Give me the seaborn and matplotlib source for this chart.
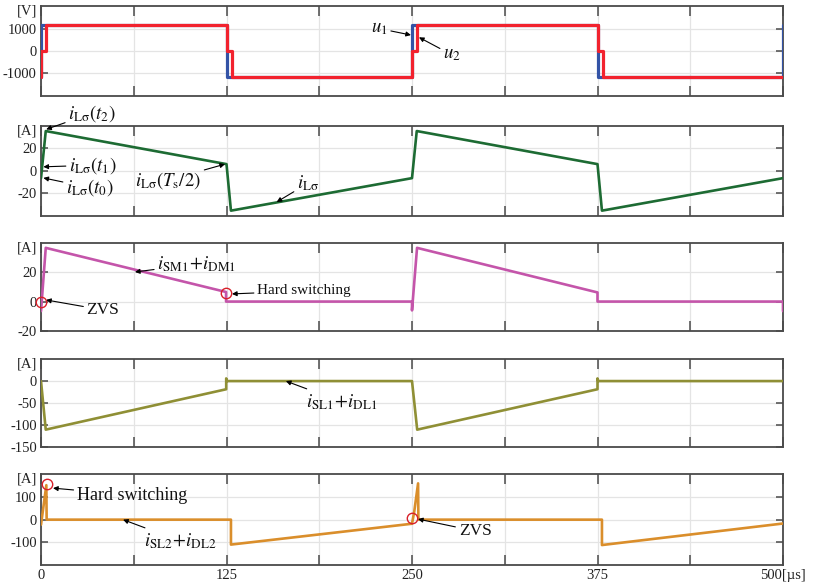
import numpy as np
import pandas as pd
import matplotlib
matplotlib.use("Agg")
import matplotlib.pyplot as plt
import seaborn as sns

# -----------------------------
# Data
# -----------------------------
t_u1 = [0, 0, 125, 125, 250, 250, 375, 375, 500, 500]
u1 = [-1200, 1200, 1200, -1200, -1200, 1200, 1200, -1200, -1200, 1200]

t_u2 = [0, 0, 3.5, 3.5, 125, 125, 128.5, 128.5, 250, 250, 253.5, 253.5,
        375, 375, 378.5, 378.5, 500]
u2 = [-1200, 0, 0, 1200, 1200, 0, 0, -1200, -1200, 0, 0, 1200,
      1200, 0, 0, -1200, -1200]

t_iL = [0, 3.2, 125, 128, 250, 253.2, 375, 378, 500]
i_L = [-6.5, 35.5, 6, -35.5, -6.5, 35.5, 6, -35.5, -6.5]

t_sm1 = [0, 3.2, 124.7, 124.7, 250, 250, 253.4, 375, 375, 500, 500]
i_sm1 = [-6.5, 36.5, 6.5, 0, 0, -6, 36.5, 6.2, 0, 0, -6.5]

t_sl1 = [0, 3.2, 124.8, 124.8, 125.4, 250, 253.5, 375, 375, 375.5, 500]
i_sl1 = [0, -110, -18.5, 6, 0, 0, -110, -18.5, 6, 0, 0]

t_sl2 = [0, 3.6, 3.8, 128, 128, 250, 251.5, 254.1, 254.3, 378, 378, 500]
i_sl2 = [-22, 152, 0, 0, -110, -18, 35, 160, 0, 0, -112, -17]

x_ticks = [0, 62.5, 125, 187.5, 250, 312.5, 375, 437.5, 500]
x_labels = ["0", "", "125", "", "250", "", "375", "", "500[\u00b5s]"]

y_ticks = [[-1000, 0, 1000], [-20, 0, 20], [-20, 0, 20],
           [-150, -100, -50, 0], [-100, 0, 100]]
y_lims = [(-2050, 2050), (-40, 40), (-20, 40), (-150, 50), (-200, 200)]
units = ["[V]", "[A]", "[A]", "[A]", "[A]"]

# -----------------------------
# Style
# -----------------------------
sns.set_theme(style="white")
plt.rcParams["font.family"] = ["Liberation Serif", "DejaVu Serif"]
plt.rcParams["mathtext.fontset"] = "stix"
plt.rcParams["axes.unicode_minus"] = False

BLUE = "#3353A6"
RED = "#F2222E"
GREEN = "#1D6B33"
MAGENTA = "#C455AA"
OLIVE = "#8F8F35"
ORANGE = "#DA8E2B"
CIRCLE = "#D8202A"
TICK_FS = 10.5

W, H = 813, 585
fig = plt.figure(figsize=(W / 100, H / 100), dpi=100)

panels_px = [(6, 96), (126, 215.7), (242.7, 331), (359, 447.3), (474.3, 565)]
axes = []
for top, bot in panels_px:
    ax = fig.add_axes([41 / W, 1 - bot / H, 742 / W, (bot - top) / H])
    axes.append(ax)

# -----------------------------
# Curves
# -----------------------------
df_u = pd.concat([
    pd.DataFrame({"t": t_u1, "v": u1, "sig": "u1"}),
    pd.DataFrame({"t": t_u2, "v": u2, "sig": "u2"}),
])
sns.lineplot(data=df_u, x="t", y="v", hue="sig", hue_order=["u1", "u2"],
             palette={"u1": BLUE, "u2": RED}, sort=False, estimator=None,
             lw=2.3, legend=False, ax=axes[0], zorder=3)

series = [(t_iL, i_L, GREEN), (t_sm1, i_sm1, MAGENTA),
          (t_sl1, i_sl1, OLIVE), (t_sl2, i_sl2, ORANGE)]
for ax, (tt, ii, col) in zip(axes[1:], series):
    sns.lineplot(x=tt, y=ii, sort=False, estimator=None, color=col,
                 lw=1.9, ax=ax, zorder=3)

for k, ax in enumerate(axes):
    ax.set_xlim(0, 500)
    ax.set_ylim(*y_lims[k])
    ax.set_xticks(x_ticks)
    ax.set_yticks(y_ticks[k])
    ax.set_xlabel("")
    ax.set_ylabel("")
    ax.grid(True, color="#E4E4E4", lw=0.9, zorder=0)
    ax.set_axisbelow(True)
    for sp in ax.spines.values():
        sp.set_color("#4A4A4A")
        sp.set_linewidth(1.3)
    ax.tick_params(axis="x", direction="in", top=True, bottom=True,
                   length=7.5, width=1.1, color="#4A4A4A", labelsize=TICK_FS,
                   pad=3)
    ax.tick_params(axis="y", direction="in", left=True, right=True,
                   length=5, width=1.1, color="#4A4A4A", labelsize=TICK_FS,
                   pad=3, labelcolor="#222222")
    if k < 4:
        ax.set_xticklabels([])
    else:
        ax.set_xticklabels(x_labels, color="#222222")
    ax.text(-0.005, 0.945, units[k], transform=ax.transAxes, ha="right",
            va="center", fontsize=TICK_FS, color="#222222")

# -----------------------------
# Annotations
# -----------------------------
arrow = dict(arrowstyle="-|>", color="black", lw=0.8, mutation_scale=7,
             shrinkA=0, shrinkB=0)


def note(ax, text, xy, xytext, size=13.5):
    ax.annotate(text, xy=xy, xytext=xytext, ha="center", va="center",
                fontsize=size, color="#111111", arrowprops=arrow,
                annotation_clip=False, zorder=5)


def ring(ax, xy):
    ax.plot([xy[0]], [xy[1]], marker="o", ms=7.5, mfc="none", mec=CIRCLE,
            mew=1.0, clip_on=False, zorder=6)


note(axes[0], r"$u_1$", (249.3, 727), (228, 1020))
note(axes[0], r"$u_2$", (254.7, 623), (277, -180))

note(axes[1], r"$i_{\mathrm{L\sigma}}(t_2)$", (3.5, 37), (34.5, 51.5))
note(axes[1], r"$i_{\mathrm{L\sigma}}(t_1)$", (1.6, 3.6), (35, 5))
note(axes[1], r"$i_{\mathrm{L\sigma}}(t_0)$", (1.6, -6.3), (33, -15))
note(axes[1], r"$i_{\mathrm{L\sigma}}(T_{\mathrm{s}}/2)$", (124, 6), (85.6, -8.3))
note(axes[1], r"$i_{\mathrm{L\sigma}}$", (158.8, -27.8), (180, -11))

ring(axes[2], (0, 0))
ring(axes[2], (124.7, 6))
note(axes[2], "ZVS", (3.4, 1.1), (41.8, -5.7), size=12.5)
note(axes[2], "Hard switching", (128.7, 5.2), (177.2, 7.2), size=11)
note(axes[2], r"$i_{\mathrm{SM1}}\!+\!i_{\mathrm{DM1}}$", (63.3, 20.1), (105, 25.5))

note(axes[3], r"$i_{\mathrm{SL1}}\!+\!i_{\mathrm{DL1}}$", (165, 0), (202.8, -47.3))

ring(axes[4], (4, 156))
ring(axes[4], (249.8, 6))
note(axes[4], "Hard switching", (8.1, 139), (61.3, 108), size=13)
note(axes[4], r"$i_{\mathrm{SL2}}\!+\!i_{\mathrm{DL2}}$", (55.3, 0), (93.7, -94))
note(axes[4], "ZVS", (254, 2.6), (292.5, -50), size=12.5)

fig.savefig("out.png", dpi=100)
